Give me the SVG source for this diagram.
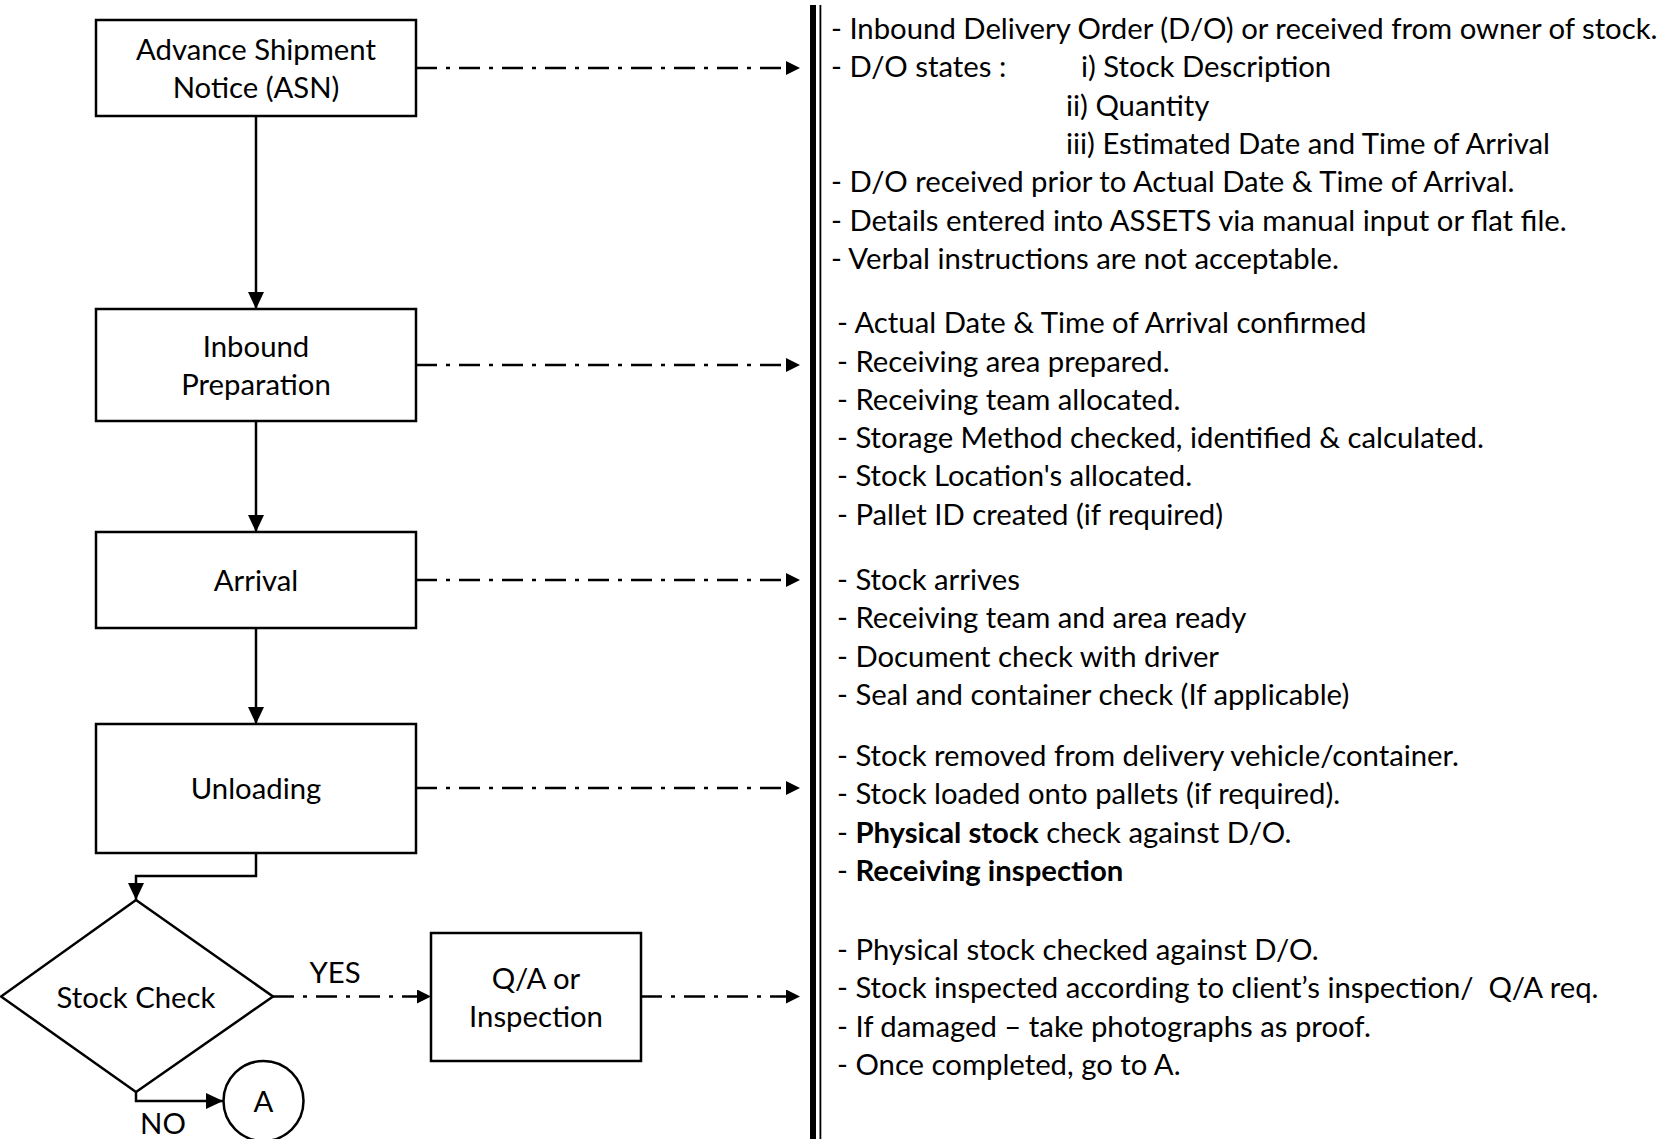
<svg xmlns="http://www.w3.org/2000/svg" width="1670" height="1139" viewBox="0 0 1670 1139">
<defs>
<style>
text{font-family:Lato,"Liberation Sans",sans-serif;font-size:29.3px;fill:#000}
.c{text-anchor:middle}
.b{font-weight:bold}
.box{fill:#fff;stroke:#000;stroke-width:2.5}
.solid{fill:none;stroke:#000;stroke-width:2.5}
.dash{fill:none;stroke:#000;stroke-width:2.5;stroke-dasharray:21 9 4 9}
</style>
<marker id="ah" markerUnits="userSpaceOnUse" markerWidth="16" markerHeight="16" refX="14" refY="7" orient="auto"><path d="M0,0 L14,7 L0,14 z" fill="#000"/></marker>
<marker id="av" markerUnits="userSpaceOnUse" markerWidth="18" markerHeight="18" refX="17" refY="8" orient="auto"><path d="M0,0 L17,8 L0,16 z" fill="#000"/></marker>
</defs>
<rect width="1670" height="1139" fill="#fff"/>

<g id="connectors">
<path class="solid" d="M256,116 V309" marker-end="url(#av)"/>
<path class="solid" d="M256,421 V532" marker-end="url(#av)"/>
<path class="solid" d="M256,628 V724" marker-end="url(#av)"/>
<path class="solid" d="M256,853 V876 H136 V900" marker-end="url(#av)"/>
<path class="solid" d="M136,1092 V1101 H223" marker-end="url(#av)"/>
<path class="dash" d="M416,68 H800" marker-end="url(#ah)"/>
<path class="dash" d="M416,365 H800" marker-end="url(#ah)"/>
<path class="dash" d="M416,580 H800" marker-end="url(#ah)"/>
<path class="dash" d="M416,788 H800" marker-end="url(#ah)"/>
<path class="dash" d="M273,996.5 H431" marker-end="url(#ah)"/>
<path class="dash" d="M641,996.5 H800" marker-end="url(#ah)"/>
<text class="c" x="335" y="983">YES</text>
<text class="c" x="163" y="1134">NO</text>
</g>

<g id="divider">
<rect x="810" y="5" width="6" height="1134" fill="#000"/>
<rect x="819.5" y="5" width="1.8" height="1134" fill="#000"/>
</g>

<g id="asn">
<rect class="box" x="96" y="20" width="320" height="96"/>
<text class="c" x="256" y="60">Advance Shipment</text>
<text class="c" x="256" y="98">Notice (ASN)</text>
</g>
<g id="inbound-preparation">
<rect class="box" x="96" y="309" width="320" height="112"/>
<text class="c" x="256" y="357">Inbound</text>
<text class="c" x="256" y="395">Preparation</text>
</g>
<g id="arrival">
<rect class="box" x="96" y="532" width="320" height="96"/>
<text class="c" x="256" y="591">Arrival</text>
</g>
<g id="unloading">
<rect class="box" x="96" y="724" width="320" height="129"/>
<text class="c" x="256" y="799">Unloading</text>
</g>
<g id="stock-check">
<polygon class="box" points="136,900 273,996.5 136,1092 1,996.5"/>
<text class="c" x="136" y="1008">Stock Check</text>
</g>
<g id="qa-inspection">
<rect class="box" x="431" y="933" width="210" height="128"/>
<text class="c" x="536" y="989">Q/A or</text>
<text class="c" x="536" y="1027">Inspection</text>
</g>
<g id="a-connector">
<circle class="box" cx="263.5" cy="1101" r="40"/>
<text class="c" x="263.5" y="1112">A</text>
</g>

<g id="notes-asn">
<text x="831" y="39">- Inbound Delivery Order (D/O) or received from owner of stock.</text>
<text x="831" y="77">- D/O states :</text>
<text x="1081" y="77">i) Stock Description</text>
<text x="1066" y="116">ii) Quantity</text>
<text x="1066" y="154">iii) Estimated Date and Time of Arrival</text>
<text x="831" y="192">- D/O received prior to Actual Date &amp; Time of Arrival.</text>
<text x="831" y="231">- Details entered into ASSETS via manual input or flat file.</text>
<text x="831" y="269">- Verbal instructions are not acceptable.</text>
</g>
<g id="notes-preparation">
<text x="837" y="333">- Actual Date &amp; Time of Arrival confirmed</text>
<text x="837" y="372">- Receiving area prepared.</text>
<text x="837" y="410">- Receiving team allocated.</text>
<text x="837" y="448">- Storage Method checked, identified &amp; calculated.</text>
<text x="837" y="486">- Stock Location's allocated.</text>
<text x="837" y="525">- Pallet ID created (if required)</text>
</g>
<g id="notes-arrival">
<text x="837" y="590">- Stock arrives</text>
<text x="837" y="628">- Receiving team and area ready</text>
<text x="837" y="667">- Document check with driver</text>
<text x="837" y="705">- Seal and container check (If applicable)</text>
</g>
<g id="notes-unloading">
<text x="837" y="766">- Stock removed from delivery vehicle/container.</text>
<text x="837" y="804">- Stock loaded onto pallets (if required).</text>
<text x="837" y="843">- <tspan class="b">Physical stock</tspan> check against D/O.</text>
<text x="837" y="881">- <tspan class="b">Receiving inspection</tspan></text>
</g>
<g id="notes-qa">
<text x="837" y="960">- Physical stock checked against D/O.</text>
<text x="837" y="998">- Stock inspected according to client’s inspection/&#160; Q/A req.</text>
<text x="837" y="1037">- If damaged – take photographs as proof.</text>
<text x="837" y="1075">- Once completed, go to A.</text>
</g>
</svg>
